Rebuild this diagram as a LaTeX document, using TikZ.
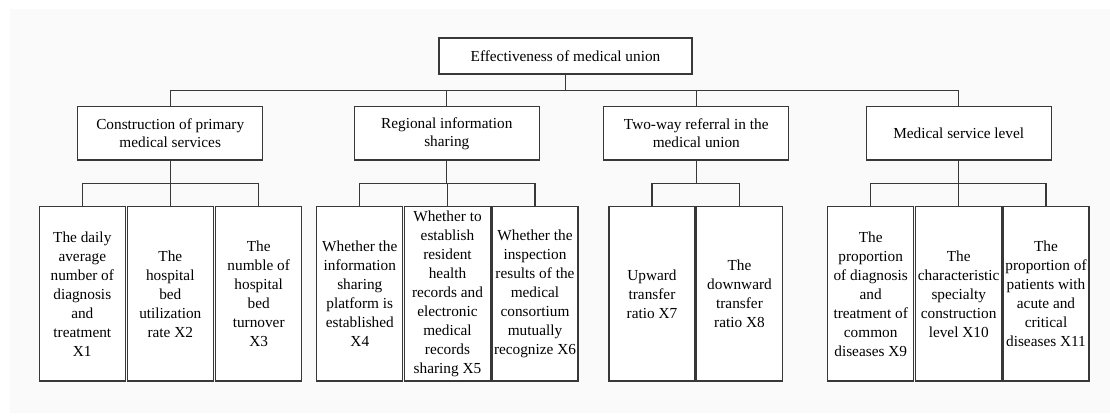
\documentclass[tikz,border=0pt]{standalone}
\usepackage{fontspec}
\setmainfont{Liberation Serif}
\tikzset{
  every node/.style={inner sep=0pt, outer sep=0pt},
  boxbase/.style={draw=black!78, line width=1.3pt, fill=white, align=center,
    font=\fontsize{15.3}{19}\selectfont},
  topbox/.style={boxbase, minimum width=253pt, minimum height=36pt},
  midbox/.style={boxbase, minimum width=185pt, minimum height=53.3pt, font=\fontsize{15.3}{18}\selectfont},
  leafbox/.style={boxbase, minimum width=86pt, minimum height=174.3pt},
  conn/.style={draw=black!78, line width=1.3pt},
}
\begin{document}
\begin{tikzpicture}[x=1pt,y=-1pt]
\useasboundingbox (0,0) rectangle (1110,415);
\fill[black!2] (10,9) rectangle (1110,413);

\node[topbox] (top) at (565.5,56) {Effectiveness of medical union};

\node[midbox] (c1) at (170.2,133.3) {Construction of primary\\medical services};
\node[midbox] (c2) at (446.8,133.3) {Regional information\\sharing};
\node[midbox] (c3) at (696.3,133.3) {Two-way referral in the\\medical union};
\node[midbox] (c4) at (958.7,133.3) {Medical service level};

\node[leafbox] (x1) at (82.3,293.8) {The daily\\average\\number of\\diagnosis\\and\\treatment\\X1};
\node[leafbox] (x2) at (170.3,293.8) {The\\hospital\\bed\\utilization\\rate X2};
\node[leafbox] (x3) at (258.7,293.8) {The\\numble of\\hospital\\bed\\turnover\\X3};
\node[leafbox] (x4) at (359.8,293.8) {Whether the\\information\\sharing\\platform is\\established\\X4};
\node[leafbox] (x5) at (447.5,293.8) {Whether to\\establish\\resident\\health\\records and\\electronic\\medical\\records\\sharing X5};
\node[leafbox] (x6) at (535,293.8) {Whether the\\inspection\\results of the\\medical\\consortium\\mutually\\recognize X6};
\node[leafbox] (x7) at (652,293.8) {Upward\\transfer\\ratio X7};
\node[leafbox] (x8) at (739.5,293.8) {The\\downward\\transfer\\ratio X8};
\node[leafbox] (x9) at (870.7,293.8) {The\\proportion\\of diagnosis\\and\\treatment of\\common\\diseases X9};
\node[leafbox] (x10) at (958.7,293.8) {The\\characteristic\\specialty\\construction\\level X10};
\node[leafbox] (x11) at (1046,293.8) {The\\proportion of\\patients with\\acute and\\critical\\diseases X11};

\coordinate (bus) at (0,90.7);
\coordinate (sub) at (0,183.3);

\foreach \c in {c1,c2,c3,c4}
  \draw[conn] (top.south) -- (top.south |- bus) -| (\c.north);

\foreach \p/\l in {c1/x1,c1/x2,c1/x3,c2/x4,c2/x5,c2/x6,c3/x7,c3/x8,c4/x9,c4/x10,c4/x11}
  \draw[conn] (\p.south) -- (\p.south |- sub) -| (\l.north);
\end{tikzpicture}
\end{document}
